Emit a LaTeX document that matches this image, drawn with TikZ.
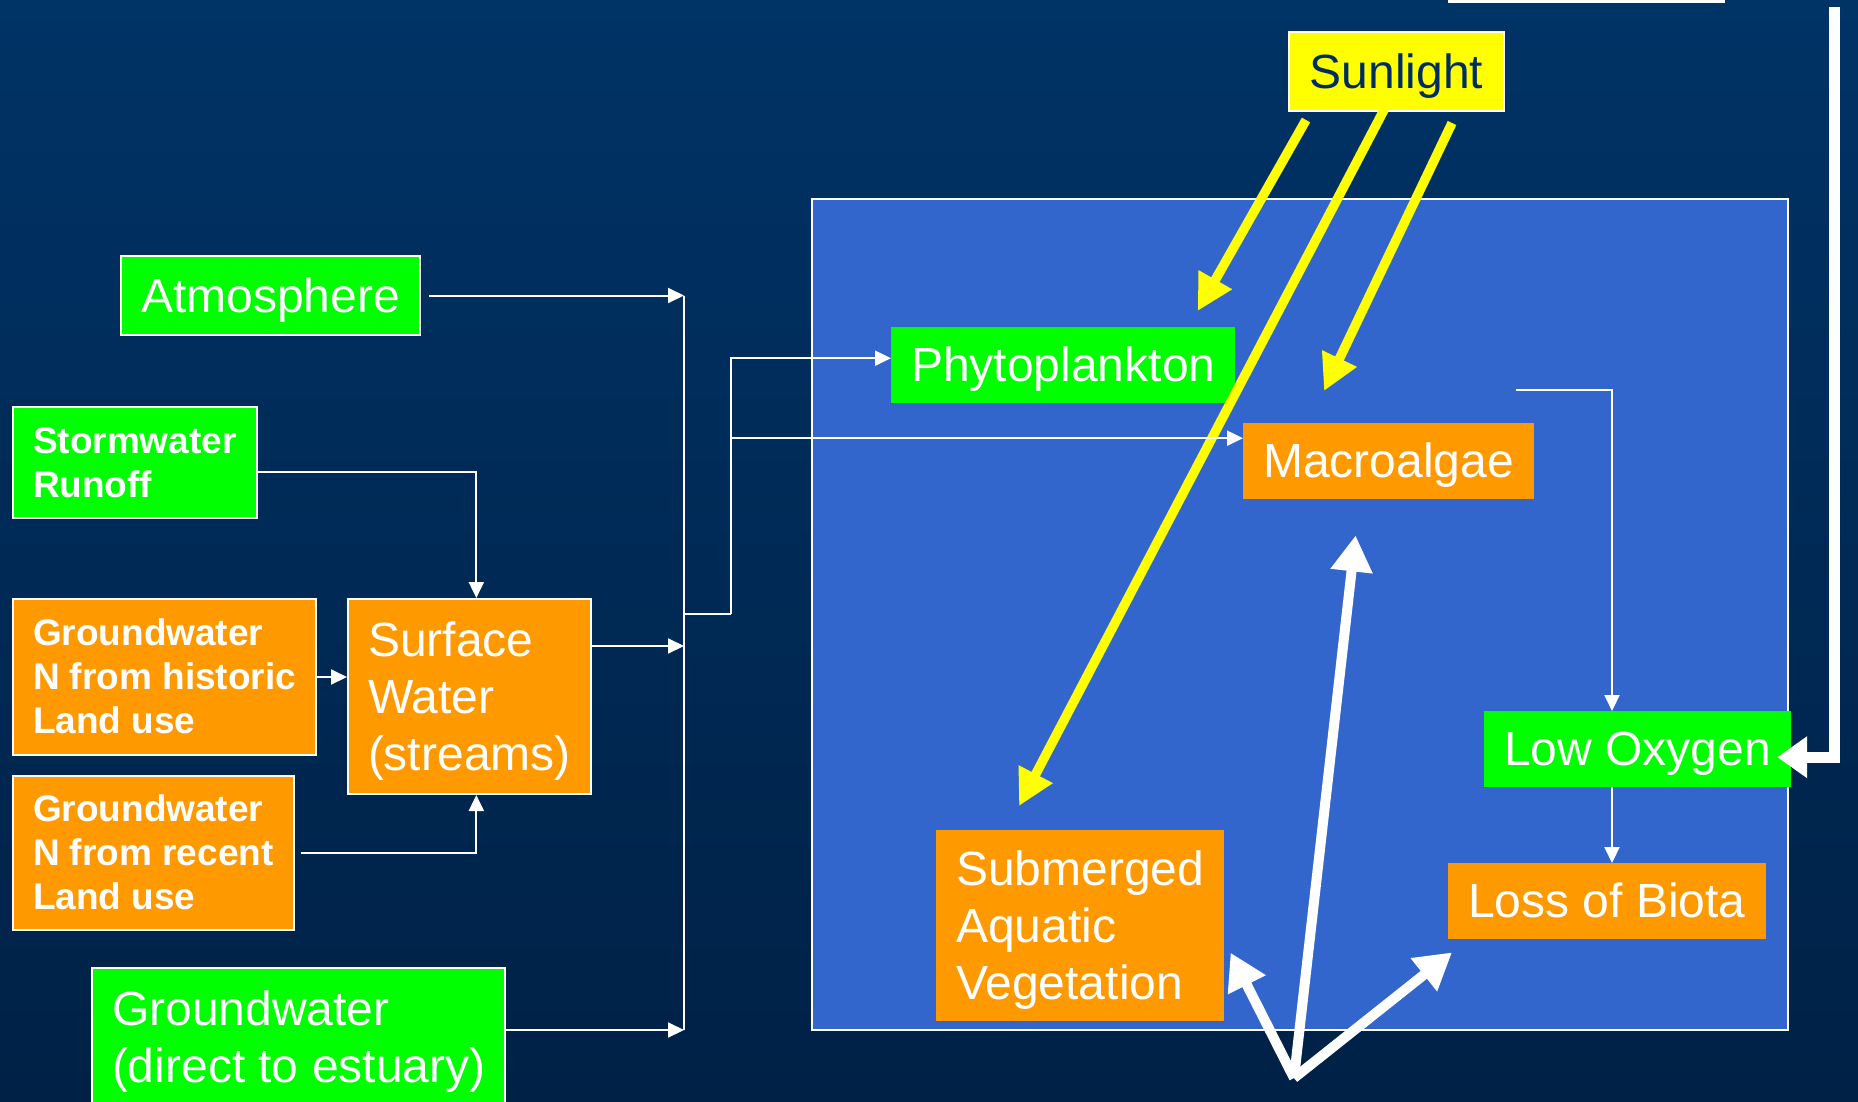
\documentclass[tikz,border=0pt]{standalone}
\usepackage{fontspec}
\setmainfont{Liberation Sans}
\usetikzlibrary{arrows.meta,calc}
\definecolor{bgtop}{RGB}{0,51,102}
\definecolor{bgbot}{RGB}{0,33,70}
\definecolor{estblue}{RGB}{51,102,204}
\definecolor{grn}{RGB}{0,255,0}
\definecolor{org}{RGB}{255,153,0}
\definecolor{yel}{RGB}{255,255,0}
\definecolor{navy}{RGB}{0,45,95}
\newcommand\myTopBig{\rule{0pt}{43pt}}
\newcommand\myBotBig{\rule[-10pt]{0pt}{10pt}}
\newcommand\myTopBld{\rule{0pt}{33.5pt}}
\newcommand\myBotBld{\rule[-7.8pt]{0pt}{7.8pt}}
\begin{document}
\begin{tikzpicture}[x=1pt,y=-1pt,
  box/.style={anchor=north west, inner xsep=20pt, inner ysep=0pt, text=white, align=left},
  one/.style={text height=43pt, text depth=10pt},
  framed/.style={draw=white, line width=2pt},
  big/.style={font=\fontsize{48}{57}\selectfont},
  bld/.style={font=\bfseries\fontsize{37}{44}\selectfont},
  flow/.style={draw=white, line width=2pt, -{Triangle[length=16pt,width=15pt]}},
  wline/.style={draw=white, line width=2pt},
  sunray/.style={draw=yel, line width=9.5pt, -{Triangle[length=36pt,width=36pt]}},
  bigarrow/.style={draw=white, line width=10pt, -{Triangle[length=36pt,width=40pt]}}]
\useasboundingbox (0,0) rectangle (1858,1101);
\clip (0,0) rectangle (1858,1101);
\shade[top color=bgtop, bottom color=bgbot] (0,0) rectangle (1858,1101);
% estuary
\draw[fill=estblue, draw=white, line width=2pt] (812,199) rectangle (1788,1030);
% top line
\draw[white, line width=4pt] (1448,1) -- (1725,1);
% nodes
\node[box,one,framed,big,fill=yel,text=navy,minimum width=215pt,minimum height=79pt] (sun) at (1288,31) {Sunlight};
\node[box,one,framed,big,fill=grn,minimum width=299pt,minimum height=79pt] (atm) at (120,255) {Atmosphere};
\node[box,framed,bld,fill=grn,minimum height=111pt] (storm) at (12,406) {\myTopBld Stormwater\\Runoff\myBotBld};
\node[box,framed,bld,fill=org,minimum height=156pt] (hist) at (12,598) {\myTopBld Groundwater\\N from historic\\Land use\myBotBld};
\node[box,framed,big,fill=org,minimum height=195pt] (surf) at (347,598) {\myTopBig Surface\\Water\\(streams)\myBotBig};
\node[box,framed,bld,fill=org,minimum height=154pt] (rec) at (12,775) {\myTopBld Groundwater\\N from recent\\Land use\myBotBld};
\node[box,framed,big,fill=grn,minimum height=139pt] (gwd) at (91,967) {\myTopBig Groundwater\\(direct to estuary)\myBotBig};
\node[box,one,big,fill=grn,minimum width=343pt,minimum height=76pt] (phyto) at (891,327) {Phytoplankton};
\node[box,one,big,fill=org,minimum width=290pt,minimum height=76pt] (macro) at (1243,423) {Macroalgae};
\node[box,one,big,fill=grn,minimum width=304pt,minimum height=76pt] (lowox) at (1484,711) {Low Oxygen};
\node[box,one,big,fill=org,minimum width=316pt,minimum height=76pt] (loss) at (1448,863) {Loss of Biota};
\node[box,big,fill=org,minimum height=191pt] (sav) at (936,830) {\myTopBig Submerged\\Aquatic\\Vegetation\myBotBig};
% sunlight rays
\draw[sunray] ($(sun.south west)+(18,8)$) -- ($(phyto.north east)+(-38,-16)$);
\draw[sunray] ($(sun.south)+(-12,-3)$) -- ($(sav.north west)+(83,-24)$);
\draw[sunray] ($(sun.south east)+(-53,11)$) -- ($(macro.north west)+(81,-32)$);
% bus and thin connectors
\coordinate (busX) at (684,0);
\coordinate (busS) at (684,646);
\coordinate (busB) at (684,1030);
\coordinate (j1) at (684,614);
\coordinate (j2) at (731,614);
\draw[wline] (atm.east -| busX) -- (busB);
\draw[flow] ([xshift=8pt]atm.east) -- (atm.east -| busX);
\draw[flow] ([yshift=-9pt]storm.east) -| ([xshift=7pt]surf.north);
\draw[flow] (hist.east) -- (surf.west|-hist.east);
\draw[flow] ([xshift=6pt]rec.east) -| ([xshift=7pt]surf.south);
\draw[flow] (surf.east|-busS) -- (busS);
\draw[flow] (gwd.east|-busB) -- (busB);
\draw[wline] (j1) -- (j2);
\draw[flow] (j2) |- ([yshift=7pt]phyto.west);
\draw[flow] (j2) |- ([yshift=23pt]macro.west);
\coordinate (lo1) at (1516,390);
\coordinate (vx) at (1612,390);
\draw[flow] (lo1) -- (vx) -- (vx|-lowox.north);
\draw[flow] (vx|-lowox.south) -- (vx|-loss.north);
% right feedback arrow
\coordinate (r1) at (1834,7);
\draw[draw=white, line width=11pt, -{Triangle[length=30pt,width=40pt]}] (r1) |- ([xshift=-14pt,yshift=-8pt]lowox.east);
% white arrows from hub
\coordinate (hub) at (1294,1078);
\draw[bigarrow] (hub) -- ($(macro.south)+(-33,36)$);
\draw[bigarrow] (hub) -- ($(sav.east)+(6,27)$);
\draw[bigarrow] (hub) -- ($(loss.south west)+(4,13)$);
\end{tikzpicture}
\end{document}
